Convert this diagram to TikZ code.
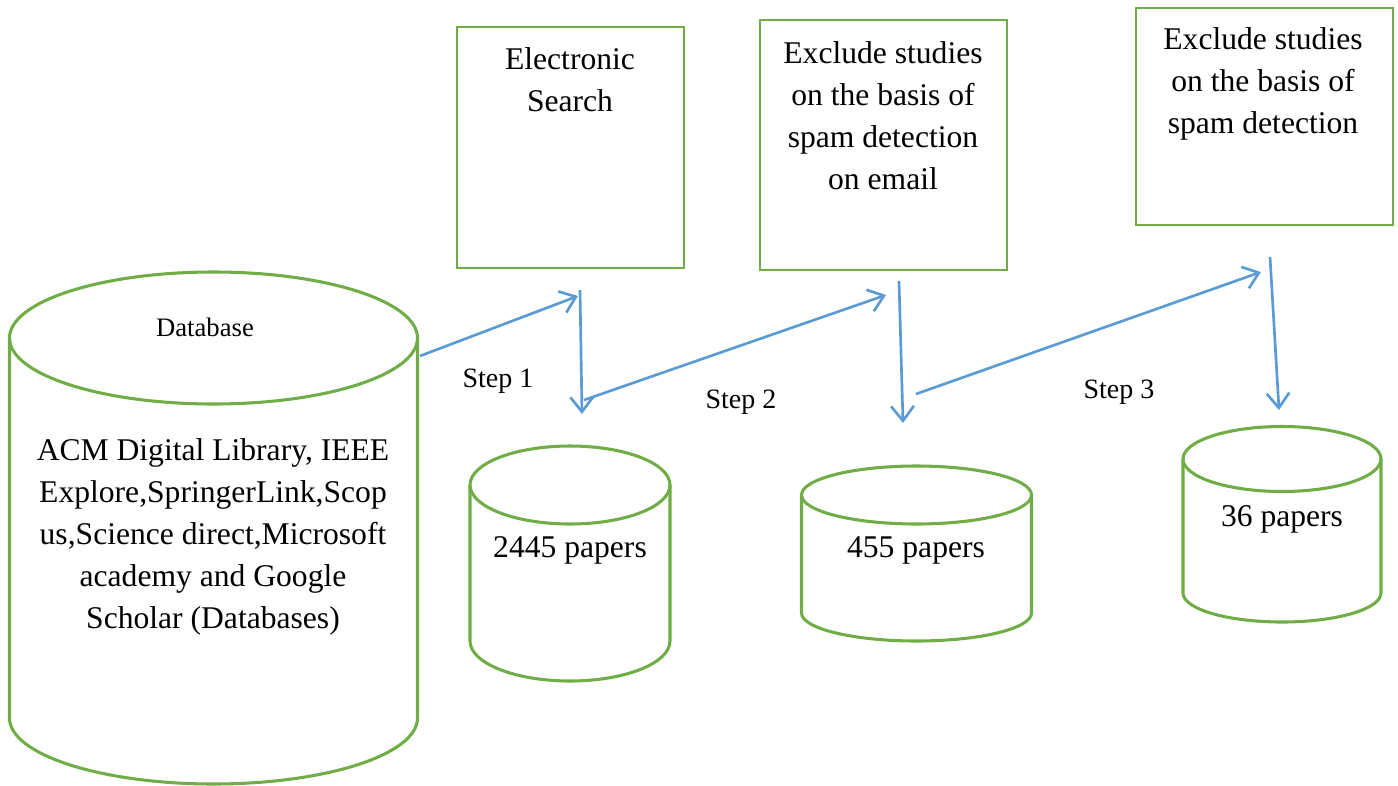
\documentclass[tikz,border=0pt]{standalone}
\usepackage{fontspec}
\setmainfont{Liberation Serif}
\usetikzlibrary{arrows.meta}
\definecolor{grn}{HTML}{70AD47}
\definecolor{blu}{HTML}{5B9BD5}
\begin{document}
\begin{tikzpicture}[x=0.75pt,y=-0.75pt,
  box/.style={draw=grn,line width=1.9pt,rectangle,inner sep=0pt},
  cyl/.style={draw=grn,line width=2.3pt},
  conn/.style={draw=blu,line width=2pt},
  arr/.style={conn,-{Straight Barb[length=11pt,width=17pt,line width=2pt]}},
  txt/.style={align=center,inner sep=0pt,font=\fontsize{23.7pt}{31.5pt}\selectfont},
  lbl/.style={inner sep=0pt,font=\fontsize{21pt}{25pt}\selectfont},
  dbl/.style={inner sep=0pt,font=\fontsize{20pt}{24pt}\selectfont}]
\useasboundingbox (0,0) rectangle (1398,785);

% big database cylinder
\draw[cyl] (213.5,338) ellipse [x radius=204,y radius=66];
\draw[cyl] (9.5,338) -- (9.5,718) arc[start angle=180,end angle=0,x radius=204,y radius=66] -- (417.5,338);
\node[dbl] (dbname) at (205,327) {Database};
\node[txt] (dblist) at (213,537) {ACM Digital Library, IEEE\\Explore,SpringerLink,Scop\\us,Science direct,Microsoft\\academy and Google\\Scholar (Databases)};

% cylinder 2445
\draw[cyl] (570,485) ellipse [x radius=100,y radius=39];
\draw[cyl] (470,485) -- (470,641) arc[start angle=180,end angle=0,x radius=100,y radius=40] -- (670,485);
\node[txt] (c1) at (570,550) {2445 papers};

% cylinder 455
\draw[cyl] (916.5,495) ellipse [x radius=115,y radius=29];
\draw[cyl] (801.5,495) -- (801.5,613) arc[start angle=180,end angle=0,x radius=115,y radius=28] -- (1031.5,495);
\node[txt] (c2) at (916,550) {455 papers};

% cylinder 36
\draw[cyl] (1282,459) ellipse [x radius=99,y radius=32.5];
\draw[cyl] (1183,459) -- (1183,593) arc[start angle=180,end angle=0,x radius=99,y radius=29] -- (1381,459);
\node[txt] (c3) at (1282,519) {36 papers};

% boxes
\node[box,minimum width=170.25pt,minimum height=180.75pt] (b1) at (570.5,147.5) {};
\node[txt] (t1) at (570,80) {Electronic\\Search};
\node[box,minimum width=185.25pt,minimum height=187.5pt] (b2) at (883.5,145) {};
\node[txt] (t2) at (883,116) {Exclude studies\\on the basis of\\spam detection\\on email};
\node[box,minimum width=192.75pt,minimum height=162.75pt] (b3) at (1264.5,116.5) {};
\node[txt] (t3) at (1263,83.5) {Exclude studies\\on the basis of\\spam detection};

% connectors
\coordinate (a1s) at (420,356);  \coordinate (a1e) at (578,296);
\coordinate (a2s) at (580,290);  \coordinate (a2e) at (582,414);
\coordinate (a3s) at (584,400);  \coordinate (a3e) at (886,295);
\coordinate (a4s) at (899,281);  \coordinate (a4e) at (903,423);
\coordinate (a5s) at (916,394);  \coordinate (a5e) at (1261,272);
\coordinate (a6s) at (1270,257); \coordinate (a6e) at (1279,410);
\draw[arr] (a1s) -- (a1e);
\draw[arr] (a2s) -- (a2e);
\draw[arr] (a3s) -- (a3e);
\draw[arr] (a4s) -- (a4e);
\draw[arr] (a5s) -- (a5e);
\draw[arr] (a6s) -- (a6e);

\node[lbl] (s1) at (498,381) {Step 1};
\node[lbl] (s2) at (741,402) {Step 2};
\node[lbl] (s3) at (1119,392) {Step 3};
\end{tikzpicture}
\end{document}
